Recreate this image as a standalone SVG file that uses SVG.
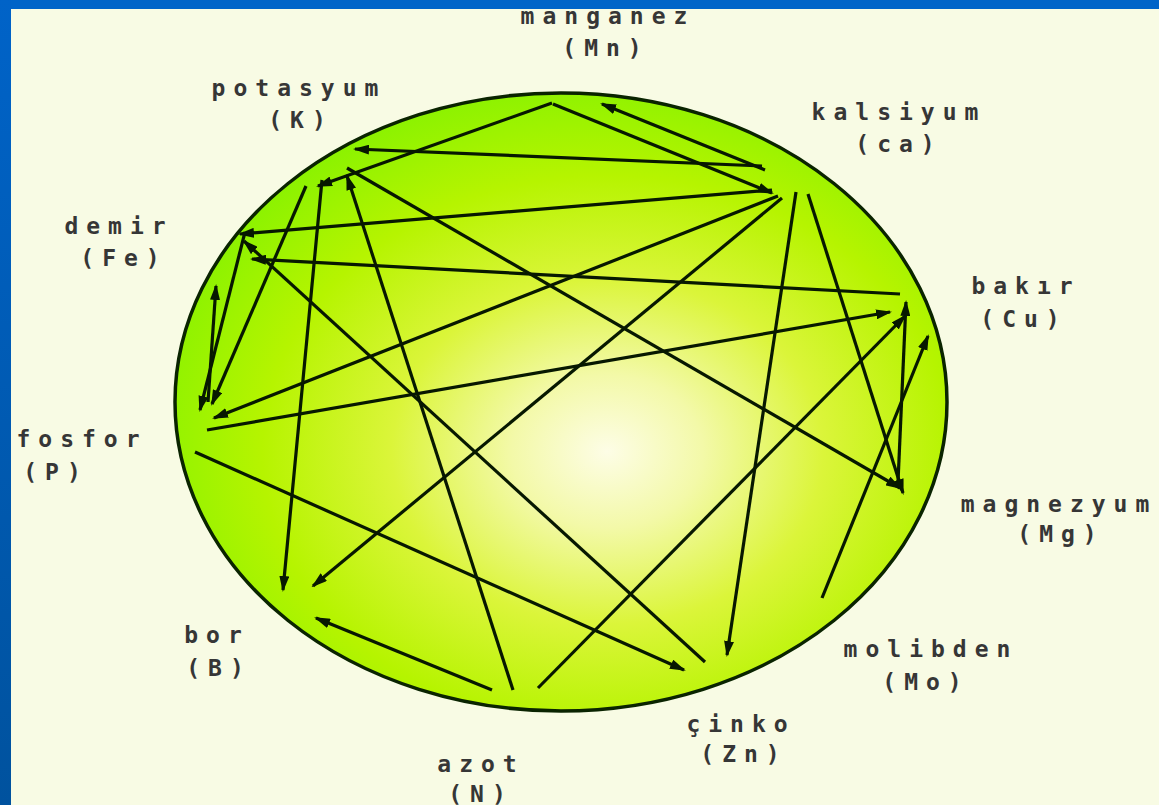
<svg xmlns="http://www.w3.org/2000/svg" width="1159" height="805" viewBox="0 0 1159 805">
<defs>
<radialGradient id="g" cx="0.56" cy="0.58" r="0.62">
<stop offset="0" stop-color="#fdfde6"/>
<stop offset="0.2" stop-color="#f3f9a8"/>
<stop offset="0.45" stop-color="#dbf53a"/>
<stop offset="0.72" stop-color="#b6f400"/>
<stop offset="1" stop-color="#86f200"/>
</radialGradient>
<linearGradient id="bl" x1="0" y1="0" x2="0" y2="1">
<stop offset="0" stop-color="#0063c8"/>
<stop offset="1" stop-color="#00529e"/>
</linearGradient>
<marker id="ah" markerUnits="userSpaceOnUse" markerWidth="16" markerHeight="10" refX="14" refY="5" orient="auto">
<path d="M0,0 L16,5 L0,10 z" fill="#071800"/>
</marker>
<style>
.t{font-family:"DejaVu Sans Mono","Liberation Mono",monospace;font-weight:bold;font-size:23px;letter-spacing:8px;fill:#363636;text-anchor:middle}
.c line{stroke:#071800;stroke-width:3.2;marker-end:url(#ah)}
</style>
</defs>
<rect width="1159" height="805" fill="#f8fbe4"/>
<rect x="0" y="0" width="1159" height="9" fill="#0064c8"/>
<rect x="0" y="0" width="11" height="805" fill="url(#bl)"/>
<g id="circle">
<ellipse cx="561" cy="402" rx="386" ry="309" fill="url(#g)" stroke="#0a2400" stroke-width="3.5"/>
</g>
<g id="connectors" class="c">
<line x1="762" y1="166" x2="355" y2="149"/>
<line x1="552" y1="103" x2="318" y2="186"/>
<line x1="765" y1="170" x2="602" y2="104"/>
<line x1="553" y1="104" x2="772" y2="193"/>
<line x1="772" y1="190" x2="240" y2="234"/>
<line x1="900" y1="294" x2="252" y2="259"/>
<line x1="207" y1="430" x2="890" y2="312"/>
<line x1="778" y1="196" x2="214" y2="418"/>
<line x1="782" y1="198" x2="313" y2="586"/>
<line x1="347" y1="168" x2="900" y2="488"/>
<line x1="705" y1="662" x2="244" y2="241"/>
<line x1="195" y1="452" x2="684" y2="670"/>
<line x1="322" y1="180" x2="283" y2="590"/>
<line x1="513" y1="690" x2="347" y2="176"/>
<line x1="492" y1="690" x2="316" y2="618"/>
<line x1="538" y1="688" x2="905" y2="316"/>
<line x1="796" y1="192" x2="727" y2="655"/>
<line x1="808" y1="194" x2="903" y2="493"/>
<line x1="822" y1="598" x2="928" y2="336"/>
<line x1="245" y1="232" x2="200" y2="410"/>
<line x1="306" y1="186" x2="212" y2="404"/>
<line x1="208" y1="402" x2="216" y2="286"/>
<line x1="898" y1="482" x2="906" y2="302"/>
</g>
<g id="mn"><text class="t" x="608" y="24">manganez</text><text class="t" x="606" y="56">(Mn)</text></g>
<g id="k"><text class="t" x="299" y="96">potasyum</text><text class="t" x="301" y="128">(K)</text></g>
<g id="ca"><text class="t" x="899" y="120">kalsiyum</text><text class="t" x="899" y="152">(ca)</text></g>
<g id="fe"><text class="t" x="119" y="234">demir</text><text class="t" x="124" y="266">(Fe)</text></g>
<g id="cu"><text class="t" x="1026" y="294">bakır</text><text class="t" x="1024" y="327">(Cu)</text></g>
<g id="p"><text class="t" x="82" y="447">fosfor</text><text class="t" x="56" y="480">(P)</text></g>
<g id="mg"><text class="t" x="1059" y="512">magnezyum</text><text class="t" x="1061" y="542">(Mg)</text></g>
<g id="b"><text class="t" x="217" y="643">bor</text><text class="t" x="219" y="676">(B)</text></g>
<g id="mo"><text class="t" x="931" y="657">molibden</text><text class="t" x="926" y="690">(Mo)</text></g>
<g id="zn"><text class="t" x="741" y="732">çinko</text><text class="t" x="744" y="762">(Zn)</text></g>
<g id="n"><text class="t" x="481" y="772">azot</text><text class="t" x="481" y="802">(N)</text></g>
</svg>
